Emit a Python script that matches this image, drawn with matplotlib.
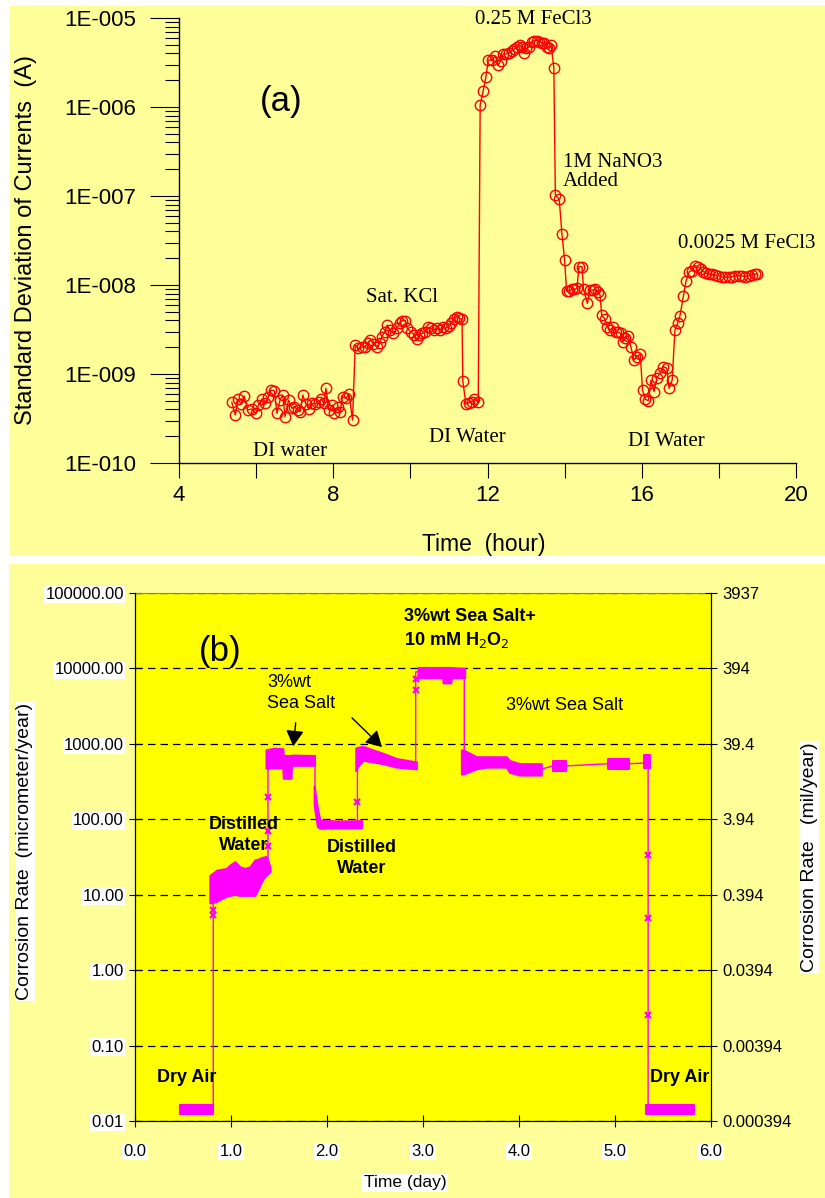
import numpy as np
import matplotlib
matplotlib.use('Agg')
import matplotlib.pyplot as plt
from matplotlib.patches import Rectangle, FancyArrowPatch
from matplotlib.ticker import FixedLocator, FixedFormatter, NullFormatter, NullLocator

# ---------------- data: panel (a) ----------------
hours_a = [5.37, 5.46, 5.53, 5.61, 5.69, 5.78, 5.89, 5.99, 6.06, 6.15, 6.23, 6.32, 6.38, 6.47,
           6.54, 6.62, 6.69, 6.75, 6.84, 6.93, 6.99, 7.08, 7.14, 7.21, 7.29, 7.37, 7.44, 7.53,
           7.62, 7.69, 7.76, 7.81, 7.89, 7.98, 8.03, 8.12, 8.18, 8.24, 8.33, 8.41, 8.50,
           8.57, 8.65, 8.74, 8.83, 8.89, 8.96, 9.04, 9.13, 9.20, 9.26, 9.34, 9.40, 9.47, 9.56,
           9.65, 9.72, 9.79, 9.87, 9.92, 10.01, 10.10, 10.17, 10.23, 10.31, 10.38, 10.47, 10.54,
           10.62, 10.68, 10.77, 10.84, 10.92, 10.99, 11.06, 11.12, 11.20, 11.27, 11.34,
           11.36, 11.44, 11.52, 11.59, 11.66, 11.76,
           11.81, 11.89, 11.96, 12.02, 12.11, 12.20, 12.28, 12.34, 12.41, 12.48, 12.56, 12.63,
           12.70, 12.76, 12.83, 12.89, 12.95, 13.00, 13.08, 13.15, 13.21, 13.28, 13.34, 13.41,
           13.47, 13.53, 13.60, 13.65, 13.72,
           13.76, 13.86, 13.93, 14.00, 14.05, 14.12, 14.19, 14.25, 14.32, 14.37, 14.45, 14.49,
           14.59, 14.66, 14.73, 14.80, 14.86, 14.92, 14.96, 15.05, 15.11, 15.18, 15.26, 15.32,
           15.39, 15.45, 15.51, 15.57, 15.65, 15.72, 15.80, 15.87, 15.96, 16.02, 16.09, 16.17,
           16.24, 16.32, 16.39, 16.47, 16.56, 16.65, 16.71, 16.79, 16.86, 16.93, 16.99, 17.08,
           17.15, 17.23, 17.30, 17.38, 17.45, 17.53, 17.60, 17.67, 17.74, 17.81, 17.90, 17.99,
           18.07, 18.16, 18.25, 18.33, 18.42, 18.51, 18.59, 18.68, 18.77, 18.85, 18.94, 19.00]

std_a = [4.81e-10, 3.46e-10, 5.24e-10, 4.56e-10, 5.66e-10, 3.94e-10, 4.04e-10, 3.61e-10, 4.48e-10,
         5.24e-10, 4.68e-10, 5.56e-10, 6.61e-10, 6.50e-10, 3.61e-10, 5.10e-10, 5.81e-10, 3.32e-10,
         5.10e-10, 4.11e-10, 4.30e-10, 3.94e-10, 3.77e-10, 5.81e-10, 4.60e-10, 4.04e-10, 4.68e-10,
         4.60e-10, 4.81e-10, 5.24e-10, 4.68e-10, 6.90e-10, 3.94e-10, 4.48e-10, 3.61e-10, 4.30e-10,
         3.77e-10, 5.56e-10, 5.33e-10, 5.91e-10, 3.04e-10,
         2.12e-9, 1.94e-9, 2.00e-9, 2.03e-9, 2.21e-9, 2.41e-9, 2.17e-9, 2.03e-9, 2.21e-9, 2.63e-9,
         2.99e-9, 3.55e-9, 3.12e-9, 2.86e-9, 3.26e-9, 3.77e-9, 3.97e-9, 3.97e-9, 3.26e-9, 2.99e-9,
         2.74e-9, 2.45e-9, 2.74e-9, 2.86e-9, 2.99e-9, 3.34e-9, 3.26e-9, 3.12e-9, 3.26e-9, 3.12e-9,
         3.34e-9, 3.26e-9, 3.46e-9, 3.71e-9, 4.11e-9, 4.41e-9, 4.22e-9, 4.11e-9,
         8.34e-10, 4.60e-10, 4.76e-10, 4.89e-10, 5.19e-10, 4.81e-10,
         1.05e-6, 1.53e-6, 2.19e-6, 3.37e-6, 3.37e-6, 3.74e-6, 2.96e-6, 3.32e-6, 3.94e-6, 3.94e-6,
         4.08e-6, 4.30e-6, 4.49e-6, 4.76e-6, 4.97e-6, 4.68e-6, 4.08e-6, 4.56e-6, 4.76e-6, 5.42e-6,
         5.56e-6, 5.56e-6, 5.42e-6, 5.28e-6, 5.19e-6, 4.76e-6, 4.56e-6, 4.97e-6, 2.77e-6,
         1.03e-7, 9.18e-8, 3.74e-8, 1.91e-8, 8.57e-9, 8.64e-9, 8.94e-9, 8.94e-9, 9.18e-9, 1.61e-8,
         1.61e-8, 8.94e-9, 6.22e-9, 8.79e-9, 8.79e-9, 8.94e-9, 8.41e-9, 7.72e-9, 4.60e-9, 4.11e-9,
         3.40e-9, 3.12e-9, 3.40e-9, 2.99e-9, 2.94e-9, 2.86e-9, 2.31e-9, 2.52e-9, 2.70e-9, 2.00e-9,
         1.44e-9, 1.57e-9, 1.68e-9, 6.61e-10, 5.19e-10, 5.02e-10, 8.56e-10, 6.33e-10, 8.94e-10,
         1.02e-9, 1.21e-9, 1.16e-9, 6.90e-10, 8.56e-10, 3.12e-9, 3.71e-9, 4.49e-9, 7.52e-9,
         1.12e-8, 1.41e-8, 1.45e-8, 1.65e-8, 1.61e-8, 1.50e-8, 1.41e-8, 1.35e-8, 1.33e-8, 1.32e-8,
         1.30e-8, 1.27e-8, 1.24e-8, 1.22e-8, 1.22e-8, 1.24e-8, 1.26e-8, 1.27e-8, 1.27e-8, 1.24e-8,
         1.27e-8, 1.30e-8, 1.33e-8, 1.32e-8]

ytick_a = [1e-10, 1e-9, 1e-8, 1e-7, 1e-6, 1e-5]
ytick_a_labels = ['1E-010', '1E-009', '1E-008', '1E-007', '1E-006', '1E-005']
xtick_a = [4, 6, 8, 10, 12, 14, 16, 18, 20]
xtick_a_labels = ['4', '', '8', '', '12', '', '16', '', '20']

# ---------------- data: panel (b) ----------------
dry1_day = [0.47, 0.815]
dry1_lo = [0.0123, 0.0123]
dry1_hi = [0.0163, 0.0163]

dw1_day = [0.78, 0.815, 0.85, 0.954, 0.989, 1.041, 1.093, 1.145, 1.197, 1.249, 1.283, 1.301,
           1.335, 1.370, 1.405]
dw1_hi = [18.0, 19.5, 21.1, 22.3, 24.7, 27.4, 23.4, 22.3, 23.4, 28.9, 29.5, 30.5, 31.5, 32.1, 23.4]
dw1_lo = [7.8, 7.9, 8.2, 9.6, 9.8, 10.1, 9.8, 9.8, 9.8, 9.8, 11.9, 13.5, 16.3, 18.5, 20.0]

ss1_day = [1.365, 1.45, 1.54, 1.545, 1.625, 1.63, 1.87]
ss1_hi = [832, 877, 860, 700, 700, 710, 700]
ss1_lo = [477, 480, 480, 350, 350, 520, 520]

dw2_day = [1.866, 1.90, 1.925, 2.10, 2.36]
dw2_hi = [276, 140, 98, 95, 96]
dw2_lo = [155, 80, 76, 77, 77]

ss2_day = [2.30, 2.32, 2.376, 2.584, 2.723, 2.931]
ss2_hi = [877, 900, 923, 748, 639, 575]
ss2_lo = [443, 500, 607, 546, 492, 467]

h2o2_day = [2.948, 3.205, 3.21, 3.29, 3.295, 3.434]
h2o2_hi = [10300, 10300, 10300, 10300, 10300, 10000]
h2o2_lo = [7540, 7540, 6440, 6440, 7540, 7540]

ss3_day = [3.40, 3.42, 3.556, 3.66, 3.868, 3.902, 4.007, 4.232]
ss3_hi = [832, 832, 674, 674, 674, 600, 546, 546]
ss3_lo = [399, 399, 467, 492, 492, 420, 386, 386]

ss3b_day = [4.354, 4.492]
ss3b_hi = [588, 588]
ss3b_lo = [443, 443]

ss3c_day = [4.926, 5.151]
ss3c_hi = [627, 627]
ss3c_lo = [467, 467]

ss3d_day = [5.307, 5.366]
ss3d_hi = [710, 710]
ss3d_lo = [477, 477]

dry2_day = [5.325, 5.828]
dry2_lo = [0.0122, 0.0122]
dry2_hi = [0.0162, 0.0162]

trace_day = [0.47, 0.815, 0.815, 1.0, 1.385, 1.385, 1.63, 1.875, 1.875, 1.91, 2.317, 2.317,
             2.924, 2.924, 3.43, 3.43, 4.23, 4.354, 4.492, 4.926, 5.151, 5.345, 5.345, 5.83]
trace_val = [0.014, 0.014, 11, 15, 22, 650, 600, 600, 250, 87, 87, 720,
             560, 9000, 9000, 600, 460, 510, 510, 545, 545, 560, 0.014, 0.014]

trans_day = [0.815, 0.815, 1.385, 1.385, 1.385, 2.317, 2.924, 2.924, 5.345, 5.345, 5.345]
trans_val = [6.3, 5.4, 44, 70.6, 197, 172, 5215, 7140, 33.8, 4.86, 0.257]

ytick_b = [0.01, 0.1, 1, 10, 100, 1000, 10000, 100000]
ytick_b_labels = ['0.01', '0.10', '1.00', '10.00', '100.00', '1000.00', '10000.00', '100000.00']
ytick_b_right = ['0.000394', '0.00394', '0.0394', '0.394', '3.94', '39.4', '394', '3937']
xtick_b = [0, 1, 2, 3, 4, 5, 6]
xtick_b_labels = ['0.0', '1.0', '2.0', '3.0', '4.0', '5.0', '6.0']

# ---------------- figure ----------------
W, H = 825, 1198
fig = plt.figure(figsize=(W / 100, H / 100), dpi=100)
fig.patch.set_facecolor('white')
SANS = 'Liberation Sans'
SERIF = 'Liberation Serif'

def rect(l, t, r, b):
    return [l / W, 1 - b / H, (r - l) / W, (b - t) / H]

def fx(px):
    return px / W

def fy(py):
    return 1 - py / H

bg = fig.add_axes([0, 0, 1, 1], zorder=-10)
bg.set_axis_off()
bg.set_xlim(0, W)
bg.set_ylim(H, 0)
bg.add_patch(Rectangle((10, 6), 815, 550, facecolor='#FFFF99', edgecolor='none'))
bg.add_patch(Rectangle((9, 564), 816, 634, facecolor='#FFFF99', edgecolor='none'))

# ---------- panel (a) ----------
axa = fig.add_axes(rect(179, 18, 796, 463), zorder=1)
axa.set_facecolor('none')
axa.set_yscale('log')
axa.set_xlim(4, 20)
axa.set_ylim(1e-10, 1e-5)
axa.plot(hours_a, std_a, color='#FF0000', lw=1.0, marker='o', ms=7.5, mfc='none',
         mec='#FF0000', mew=1.0, clip_on=False)
for s in ['top', 'right']:
    axa.spines[s].set_visible(False)
for s in ['left', 'bottom']:
    axa.spines[s].set_linewidth(1.0)
axa.yaxis.set_major_locator(FixedLocator(ytick_a))
axa.yaxis.set_major_formatter(FixedFormatter(ytick_a_labels))
minors = [m * 10.0 ** e for e in range(-10, -5) for m in range(2, 10)]
axa.yaxis.set_minor_locator(FixedLocator(minors))
axa.yaxis.set_minor_formatter(NullFormatter())
axa.xaxis.set_major_locator(FixedLocator(xtick_a))
axa.xaxis.set_major_formatter(FixedFormatter(xtick_a_labels))
axa.tick_params(axis='y', which='major', direction='out', length=21, width=0.8, labelsize=16, pad=10)
axa.tick_params(axis='y', which='minor', direction='out', length=10, width=0.8)
axa.tick_params(axis='x', which='major', direction='out', length=11, width=0.8, labelsize=16, pad=5)
for lbl in axa.get_xticklabels() + axa.get_yticklabels():
    lbl.set_fontfamily(SANS)
axa.set_xlabel('Time  (hour)', fontsize=16.5, family=SANS)
axa.set_ylabel('Standard Deviation of Currents  (A)', fontsize=17, family=SANS)
axa.xaxis.set_label_coords((484 - 179) / 617, -(545 - 463) / 445)
axa.yaxis.set_label_coords(-(179 - 26) / 617, (463 - 240) / 445)
axa.xaxis.label.set_va('center')
axa.yaxis.label.set_va('center')

def ftext(px, py, s, **kw):
    fig.text(fx(px), fy(py), s, **kw)

ftext(281, 102, '(a)', fontsize=25, family=SANS, ha='center', va='center')
ftext(290, 452, 'DI water', fontsize=15, family=SERIF, ha='center', va='center')
ftext(402, 298, 'Sat. KCl', fontsize=15, family=SERIF, ha='center', va='center')
ftext(467, 438, 'DI Water', fontsize=15, family=SERIF, ha='center', va='center')
ftext(533, 20, '0.25 M FeCl3', fontsize=15, family=SERIF, ha='center', va='center')
ftext(563, 172, '1M NaNO3\nAdded', fontsize=15, family=SERIF, ha='left', va='center',
      linespacing=1.0)
ftext(678, 244, '0.0025 M FeCl3', fontsize=15, family=SERIF, ha='left', va='center')
ftext(666, 441, 'DI Water', fontsize=15, family=SERIF, ha='center', va='center')

# ---------- panel (b) ----------
axb = fig.add_axes(rect(135, 593, 711, 1121), zorder=1)
axb.set_facecolor('#FFFF00')
axb.set_yscale('log')
axb.set_xlim(0, 6)
axb.set_ylim(0.01, 100000)
MAG = '#FF00FF'
for d, lo, hi in [(dry1_day, dry1_lo, dry1_hi), (dw1_day, dw1_lo, dw1_hi), (ss1_day, ss1_lo, ss1_hi),
                  (dw2_day, dw2_lo, dw2_hi), (ss2_day, ss2_lo, ss2_hi), (h2o2_day, h2o2_lo, h2o2_hi),
                  (ss3_day, ss3_lo, ss3_hi), (ss3b_day, ss3b_lo, ss3b_hi), (ss3c_day, ss3c_lo, ss3c_hi),
                  (ss3d_day, ss3d_lo, ss3d_hi), (dry2_day, dry2_lo, dry2_hi)]:
    axb.fill_between(d, lo, hi, facecolor=MAG, lw=1.5, edgecolor=MAG, zorder=3)
axb.plot(trace_day, trace_val, color=MAG, lw=1.0, zorder=3)
axb.plot(trans_day, trans_val, ls='none', marker='x', ms=5, mew=1.5, color=MAG, zorder=4)

axb.yaxis.set_major_locator(FixedLocator(ytick_b))
axb.yaxis.set_major_formatter(FixedFormatter(ytick_b_labels))
axb.yaxis.set_minor_locator(NullLocator())
axb.xaxis.set_major_locator(FixedLocator(xtick_b))
axb.xaxis.set_major_formatter(FixedFormatter(xtick_b_labels))
axb.grid(axis='y', which='major', color='black', lw=0.9, ls=(0, (6, 4)), zorder=2)
axb.tick_params(axis='both', which='major', direction='inout', length=9, width=0.8, labelsize=12)
axb.tick_params(axis='x', pad=12)
axb.spines['top'].set_color('#808080')
for s in ['left', 'bottom', 'right']:
    axb.spines[s].set_color('black')
wb = dict(facecolor='white', edgecolor='none', pad=1.0)
for lbl in axb.get_xticklabels() + axb.get_yticklabels():
    lbl.set_fontfamily(SANS)
    lbl.set_bbox(wb)
axb.set_xlabel('Time (day)', fontsize=12.5, family=SANS, bbox=wb)
axb.set_ylabel('Corrosion Rate  (micrometer/year)', fontsize=14, family=SANS, bbox=wb)
axb.xaxis.set_label_coords((405 - 135) / 576, -(1183 - 1121) / 528)
axb.yaxis.set_label_coords(-(135 - 25) / 576, (1121 - 851) / 528)
axb.xaxis.label.set_va('center')
axb.yaxis.label.set_va('center')

axr = axb.twinx()
axr.set_yscale('log')
axr.set_ylim(0.01, 100000)
axr.yaxis.set_major_locator(FixedLocator(ytick_b))
axr.yaxis.set_major_formatter(FixedFormatter(ytick_b_right))
axr.yaxis.set_minor_locator(NullLocator())
axr.tick_params(axis='y', which='major', direction='inout', length=9, width=0.8, labelsize=12, pad=4)
for lbl in axr.get_yticklabels():
    lbl.set_fontfamily(SANS)
axr.set_ylabel('Corrosion Rate   (mil/year)', fontsize=14, family=SANS, bbox=wb)
axr.yaxis.set_label_coords((809 - 135) / 576, (1121 - 857) / 528)
axr.yaxis.label.set_va('center')
axr.spines['top'].set_visible(False)

ftext(220, 652, '(b)', fontsize=25, family=SANS, ha='center', va='center')
ftext(267, 693, '3%wt\nSea Salt', fontsize=13, family=SANS, ha='left', va='center', linespacing=1.3)
ftext(244, 835, 'Distilled\nWater', fontsize=13, family=SANS, weight='bold', ha='center',
      va='center', linespacing=1.3)
ftext(362, 858, 'Distilled\nWater', fontsize=13, family=SANS, weight='bold', ha='center',
      va='center', linespacing=1.3)
ftext(404, 629, '3%wt Sea Salt+\n10 mM H$_2$O$_2$', fontsize=13, family=SANS, weight='bold',
      ha='left', va='center', linespacing=1.35)
ftext(565, 705, '3%wt Sea Salt', fontsize=13, family=SANS, ha='center', va='center')
ftext(187, 1078, 'Dry Air', fontsize=13, family=SANS, weight='bold', ha='center', va='center')
ftext(680, 1078, 'Dry Air', fontsize=13, family=SANS, weight='bold', ha='center', va='center')

def farrow(x0, y0, x1, y1):
    fig.add_artist(FancyArrowPatch(
        (fx(x0), fy(y0)), (fx(x1), fy(y1)), transform=fig.transFigure,
        arrowstyle='-|>,head_length=0.8,head_width=0.45', color='black', lw=1.0,
        mutation_scale=12, zorder=5))

farrow(296, 720, 293, 749)
farrow(350, 716, 384, 749)

fig.savefig('out.png', dpi=100, facecolor='white')
